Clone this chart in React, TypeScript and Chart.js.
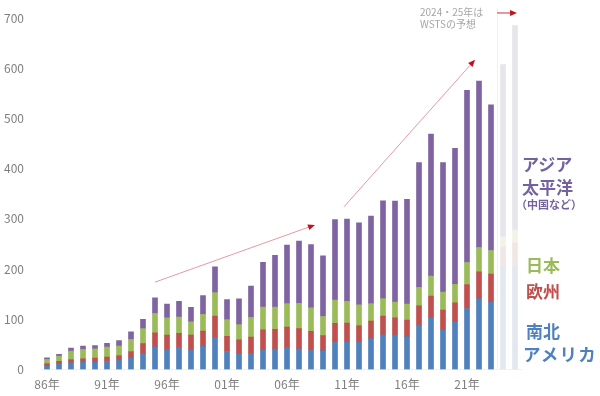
import React, { useEffect, useRef } from "react";
import { Chart, registerables } from "chart.js";

Chart.register(...registerables);

const categories = [
  "86年", "87年", "88年", "89年", "90年", "91年", "92年", "93年", "94年", "95年",
  "96年", "97年", "98年", "99年", "00年", "01年", "02年", "03年", "04年", "05年",
  "06年", "07年", "08年", "09年", "10年", "11年", "12年", "13年", "14年", "15年",
  "16年", "17年", "18年", "19年", "20年", "21年", "22年", "23年", "24年", "25年",
];
const tickLabels = ["86年", "91年", "96年", "01年", "06年", "11年", "16年", "21年"];
const yTicks = [0, 100, 200, 300, 400, 500, 600, 700];

// 南北アメリカ
const americas = [
  7, 11.5, 13.5, 14.5, 14.5, 16, 18.5, 22.5, 31.5, 45,
  40, 44, 38.5, 46, 64.1, 35.9, 31.2, 32.3, 39.1, 40.7,
  44.0, 41.0, 37.8, 37.5, 53.7, 55.2, 54.3, 61.5, 69.1, 68.7,
  65.5, 88.5, 103.0, 78.6, 95.4, 121.5, 141.1, 134.4, 204, 204,
];
// 欧州
const europe = [
  5, 5, 6.5, 6.7, 8, 8.6, 9.3, 13.3, 20, 28,
  28.6, 28, 30, 30.5, 42.3, 30.2, 27.8, 32.3, 40.0, 39.3,
  40.5, 40.5, 38.0, 30.0, 38.1, 37.4, 33.3, 34.9, 37.4, 34.3,
  32.7, 38.3, 43.0, 39.8, 37.5, 47.8, 53.6, 55.8, 40, 48,
];
// 日本
const japan = [
  8, 10, 16.5, 18.6, 18.6, 20, 18.6, 24, 30, 38.6,
  34.5, 32.6, 26.6, 33.3, 46.7, 33.1, 30.5, 38.9, 45.4, 44.1,
  46.6, 50.5, 47.0, 38.0, 46.6, 43.1, 41.1, 34.8, 34.8, 31.1,
  32.3, 36.6, 40.0, 36.0, 36.5, 43.7, 48.2, 46.8, 20, 26,
];
// アジア太平洋
const asiaPacific = [
  3, 3.5, 6, 6.6, 6.7, 7.3, 11.3, 15.3, 18.6, 31.2,
  27.3, 31.2, 28.5, 37.2, 51.3, 39.8, 51.3, 62.8, 88.8, 103.4,
  116.6, 123.6, 125.8, 120.8, 160.0, 164.0, 163.2, 174.4, 194.6, 201.1,
  208.4, 248.8, 282.8, 257.9, 271.0, 342.9, 331.4, 290.0, 343, 407,
];
const forecastFrom = 38; // 2024, 2025 are WSTS forecasts

// annotation arrows in data units: [fromIndex, fromValue, toIndex, toValue]
const arrows = [
  [9, 174, 22.33, 288],
  [24.75, 324, 35.67, 617],
  [37.5, 710, 39.17, 710],
];

const COLORS = {
  americas: "#4f81bd",
  europe: "#c0504d",
  japan: "#9bbb59",
  asia: "#8064a2",
};
const FADED = {
  americas: "#e3e8f0",
  europe: "#f1e6e6",
  japan: "#f2f2e6",
  asia: "#e6e5eb",
};

const colorArr = (c: string, f: string) =>
  categories.map((_, i) => (i >= forecastFrom ? f : c));

const FONT = '"Noto Sans CJK JP", "Noto Sans", sans-serif';

const arrowPlugin = {
  id: "arrows",
  afterDatasetsDraw(chart: any) {
    const { ctx, scales } = chart;
    const xs = scales.x;
    const ys = scales.y;
    ctx.save();
    const sx = Math.round(xs.getPixelForValue(forecastFrom - 0.5)) + 0.5;
    ctx.strokeStyle = "#f0f0f3";
    ctx.lineWidth = 1;
    ctx.beginPath();
    ctx.moveTo(sx, ys.getPixelForValue(718));
    ctx.lineTo(sx, ys.getPixelForValue(0));
    ctx.stroke();

    arrows.forEach((a, k) => {
      const x1 = xs.getPixelForValue(a[0]);
      const y1 = ys.getPixelForValue(a[1]);
      const x2 = xs.getPixelForValue(a[2]);
      const y2 = ys.getPixelForValue(a[3]);
      const ang = Math.atan2(y2 - y1, x2 - x1);
      const len = 7;
      const wid = 3;
      ctx.strokeStyle = k === 2 ? "#c9323e" : "#e39aa3";
      ctx.lineWidth = 1;
      ctx.beginPath();
      ctx.moveTo(x1, y1);
      ctx.lineTo(x2 - Math.cos(ang) * len * 0.8, y2 - Math.sin(ang) * len * 0.8);
      ctx.stroke();
      ctx.fillStyle = "#c0121f";
      ctx.beginPath();
      ctx.moveTo(x2, y2);
      ctx.lineTo(
        x2 - Math.cos(ang) * len - Math.sin(ang) * wid,
        y2 - Math.sin(ang) * len + Math.cos(ang) * wid
      );
      ctx.lineTo(
        x2 - Math.cos(ang) * len + Math.sin(ang) * wid,
        y2 - Math.sin(ang) * len - Math.cos(ang) * wid
      );
      ctx.closePath();
      ctx.fill();
    });
    ctx.restore();
  },
};

const legendItems = [
  { text: "アジア", color: "#7462a0", size: 17, left: 522, cy: 164, ls: 0 },
  { text: "太平洋", color: "#7462a0", size: 17, left: 522, cy: 187, ls: 0 },
  { text: "（中国など）", color: "#7462a0", size: 11, left: 516, cy: 205, ls: 0 },
  { text: "日本", color: "#9bbb59", size: 17, left: 526, cy: 265, ls: 0 },
  { text: "欧州", color: "#c0504d", size: 17, left: 526, cy: 291, ls: 0 },
  { text: "南北", color: "#4f81bd", size: 17, left: 526, cy: 331, ls: 0 },
  { text: "アメリカ", color: "#4f81bd", size: 17.5, left: 523, cy: 353, ls: 1.2 },
];

const noteLines = [
  { text: "2024・25年は", left: 420, cy: 11.5 },
  { text: "WSTSの予想", left: 420, cy: 23.5 },
];

export default function App() {
  const ref = useRef<HTMLCanvasElement | null>(null);

  useEffect(() => {
    if (!ref.current) return;
    Chart.defaults.font.family = FONT;
    const chart = new Chart(ref.current, {
      type: "bar",
      data: {
        labels: categories,
        datasets: [
          {
            label: "南北アメリカ",
            data: americas,
            backgroundColor: colorArr(COLORS.americas, FADED.americas),
            barThickness: 5,
          },
          {
            label: "欧州",
            data: europe,
            backgroundColor: colorArr(COLORS.europe, FADED.europe),
            barThickness: 5,
          },
          {
            label: "日本",
            data: japan,
            backgroundColor: colorArr(COLORS.japan, FADED.japan),
            barThickness: 5,
          },
          {
            label: "アジア太平洋（中国など）",
            data: asiaPacific,
            backgroundColor: colorArr(COLORS.asia, FADED.asia),
            barThickness: 5,
          },
        ],
      },
      options: {
        animation: false,
        responsive: false,
        maintainAspectRatio: false,
        layout: { padding: { left: 0, right: 79, top: 18, bottom: 0 } },
        plugins: {
          legend: { display: false },
          tooltip: { enabled: false },
        },
        scales: {
          x: {
            stacked: true,
            grid: { display: false, drawTicks: false },
            border: { display: true, color: "#eef1f6" },
            ticks: {
              autoSkip: false,
              maxRotation: 0,
              padding: 8,
              color: "#7f7f7f",
              font: { size: 12, family: FONT },
              callback: (_v: any, i: number) =>
                tickLabels.includes(categories[i]) ? categories[i] : "",
            },
            afterFit: (s: any) => {
              s.height = 26.5;
              s.paddingLeft = 0;
              s.paddingRight = 0;
            },
          },
          y: {
            stacked: true,
            min: 0,
            max: 700,
            grid: { display: false, drawTicks: false },
            border: { display: false },
            afterBuildTicks: (s: any) => {
              s.ticks = yTicks.map((v) => ({ value: v }));
            },
            ticks: {
              padding: 17,
              color: "#7f7f7f",
              font: { size: 12, family: FONT },
            },
            afterFit: (s: any) => {
              s.width = 41;
              s.paddingTop = 0;
              s.paddingBottom = 0;
            },
          },
        },
      },
      plugins: [arrowPlugin],
    });
    return () => chart.destroy();
  }, []);

  return (
    <div
      style={{
        position: "fixed",
        left: 0,
        top: 0,
        width: 600,
        height: 396,
        background: "#ffffff",
        fontFamily: FONT,
      }}
    >
      <canvas ref={ref} width={600} height={396} style={{ width: 600, height: 396, display: "block" }} />
      {legendItems.map((it) => (
        <div
          key={it.text}
          style={{
            position: "absolute",
            left: it.left,
            top: it.cy - it.size * 0.6,
            fontSize: it.size,
            lineHeight: `${it.size * 1.2}px`,
            fontWeight: 700,
            letterSpacing: it.ls,
            color: it.color,
            whiteSpace: "nowrap",
          }}
        >
          {it.text}
        </div>
      ))}
      {noteLines.map((n) => (
        <div
          key={n.text}
          style={{
            position: "absolute",
            left: n.left,
            top: n.cy - 6,
            fontSize: 10,
            lineHeight: "12px",
            color: "#a6a6a6",
            whiteSpace: "nowrap",
          }}
        >
          {n.text}
        </div>
      ))}
    </div>
  );
}
